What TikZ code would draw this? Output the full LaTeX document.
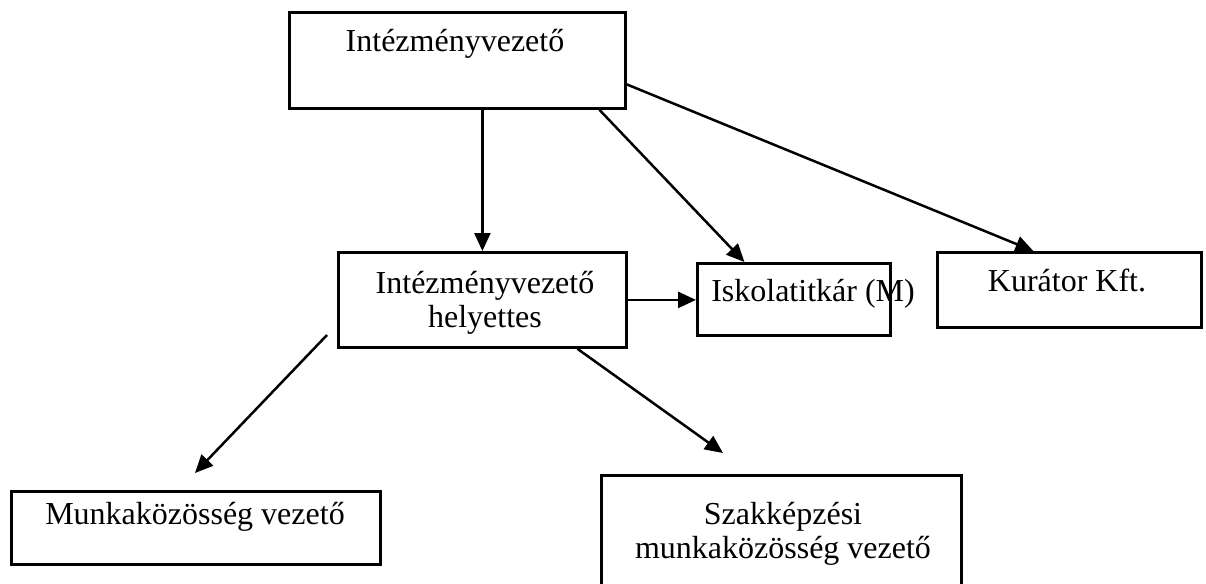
\documentclass[tikz,border=0pt]{standalone}
\usepackage{fontspec}
\setmainfont{Liberation Serif}
\usetikzlibrary{arrows.meta}

\begin{document}
\begin{tikzpicture}[x=1pt, y=-1pt, every node/.style={font=\fontsize{32}{34}\selectfont},
		box/.style={draw, line width=2.8pt, inner sep=0pt, anchor=north west},
		lbl/.style={anchor=base, align=center, inner sep=0pt},
		arr/.style={line width=2.5pt, -{Triangle[length=18pt, width=16pt]}}]
			\useasboundingbox (0,0) rectangle (1206,583);

			% Boxes
			\node[box, minimum width=336pt, minimum height=96pt] (ivez) at (288,11) {};
			\node[box, minimum width=288pt, minimum height=95pt] (hely) at (337,251) {};
			\node[box, minimum width=193pt, minimum height=72pt] (isk) at (696,262) {};
			\node[box, minimum width=264pt, minimum height=75pt] (kur) at (936,251) {};
			\node[box, minimum width=369pt, minimum height=73pt] (munka) at (10,490) {};
			\node[box, minimum width=360pt, minimum height=130pt] (szak) at (600,474) {};

			% Labels (base = last line)
			\node[lbl] (ivez-t) at (455,52) {Intézményvezető};
			\node[lbl] (hely-t) at (485,327) {Intézményvezető\\helyettes};
			\node[lbl] (isk-t) at (813,301) {Iskolatitkár (M)};
			\node[lbl] (kur-t) at (1067,291) {Kurátor Kft.};
			\node[lbl] (munka-t) at (195,524) {Munkaközösség vezető};
			\node[lbl] (szak-t) at (783,558) {Szakképzési\\munkaközösség vezető};

			% Arrows
			\coordinate (m1) at (327,335);
			\coordinate (m2) at (195,473);
			\coordinate (s2) at (723,453);
			\draw[arr] (ivez.south -| hely.north) -- (hely.north);
			\draw[arr] ([xshift=142pt]ivez.south) -- ([xshift=-49.5pt]isk.north);
			\draw[arr] ([yshift=-24pt]ivez.east) -- ([xshift=-36pt]kur.north);
			\draw[arr] (hely.east) -- (hely.east -| isk.west);
			\draw[arr] (m1) -- (m2);
			\draw[arr] ([xshift=95pt]hely.south) -- (s2);
		\end{tikzpicture}
\end{document}
